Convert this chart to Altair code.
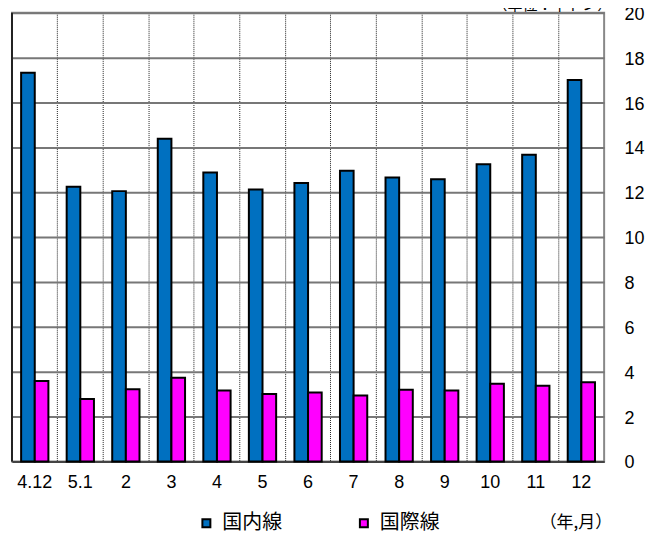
import altair as alt
import pandas as pd

months = ["4.12", "5.1", "2", "3", "4", "5", "6", "7", "8", "9", "10", "11", "12"]
domestic = [17.33, 12.25, 12.05, 14.39, 12.88, 12.12, 12.41, 12.96, 12.66, 12.58, 13.25, 13.67, 17.0]
international = [3.58, 2.78, 3.22, 3.73, 3.16, 3.01, 3.07, 2.94, 3.19, 3.16, 3.46, 3.37, 3.53]
series = ["国内線", "国際線"]
colors = ["#0070C0", "#FF00FF"]
y_ticks = list(range(0, 21, 2))
unit_label = ["（単位：千トン）"]
x_unit_label = ["（年,月）"]

rows = []
for i, m in enumerate(months):
    rows.append({"month": m, "series": series[0], "value": domestic[i]})
    rows.append({"month": m, "series": series[1], "value": international[i]})
df = pd.DataFrame(rows)

W, H = 594, 450
JP = "Noto Sans CJK JP"
NUM = "Liberation Sans"

bars = alt.Chart(df).mark_bar(stroke="black", strokeWidth=2).encode(
    x=alt.X(
        "month:N", sort=months,
        scale=alt.Scale(paddingInner=0, paddingOuter=0),
        axis=alt.Axis(
            title=None, labelAngle=0, labelFont=NUM, labelFontSize=18, labelColor="black",
            labelPadding=12, ticks=False, domainColor="#444", domainWidth=2,
            grid=True, bandPosition=0, gridColor="#222", gridDash=[1, 1], gridWidth=1,
        ),
    ),
    xOffset=alt.XOffset("series:N", sort=series,
                        scale=alt.Scale(paddingInner=0, paddingOuter=0.67)),
    y=alt.Y(
        "value:Q",
        scale=alt.Scale(domain=[0, 20], nice=False),
        axis=alt.Axis(
            title=None, orient="right", values=y_ticks, labelFont=NUM, labelFontSize=18,
            labelColor="black", labelAlign="left", labelPadding=20, labelOffset=1.5,
            ticks=False, domain=False, gridColor="#777", gridWidth=2,
        ),
    ),
    color=alt.Color(
        "series:N", sort=series,
        scale=alt.Scale(domain=series, range=colors),
        legend=alt.Legend(
            title=None, orient="none", legendX=185, legendY=502, direction="horizontal",
            symbolType="square", symbolSize=64, symbolStrokeColor="black",
            symbolStrokeWidth=2, labelFontSize=20, labelFont=JP, labelColor="black",
            columnPadding=72, labelOffset=6,
        ),
    ),
)

left_border = alt.Chart(pd.DataFrame({"a": [0]})).mark_rule(
    color="#222", strokeWidth=2
).encode(x=alt.value(0), y=alt.value(0), y2=alt.value(H))

unit_text = alt.Chart(pd.DataFrame({"t": unit_label})).mark_text(
    font=JP, fontSize=15, align="right", baseline="alphabetic", color="black"
).encode(text="t:N", x=alt.value(602), y=alt.value(-3))

xunit_text = alt.Chart(pd.DataFrame({"t": x_unit_label})).mark_text(
    font=JP, fontSize=17, align="right", baseline="middle", color="black"
).encode(text="t:N", x=alt.value(602), y=alt.value(512))

chart = alt.layer(bars, left_border, unit_text, xunit_text).properties(
    width=W, height=H,
    autosize=alt.AutoSizeParams(type="none"),
    padding={"left": 4, "top": 4, "right": 41, "bottom": 72},
).configure_view(stroke="#888", strokeWidth=2)

chart.save("out.html", embed_options={"renderer": "svg", "actions": False})
